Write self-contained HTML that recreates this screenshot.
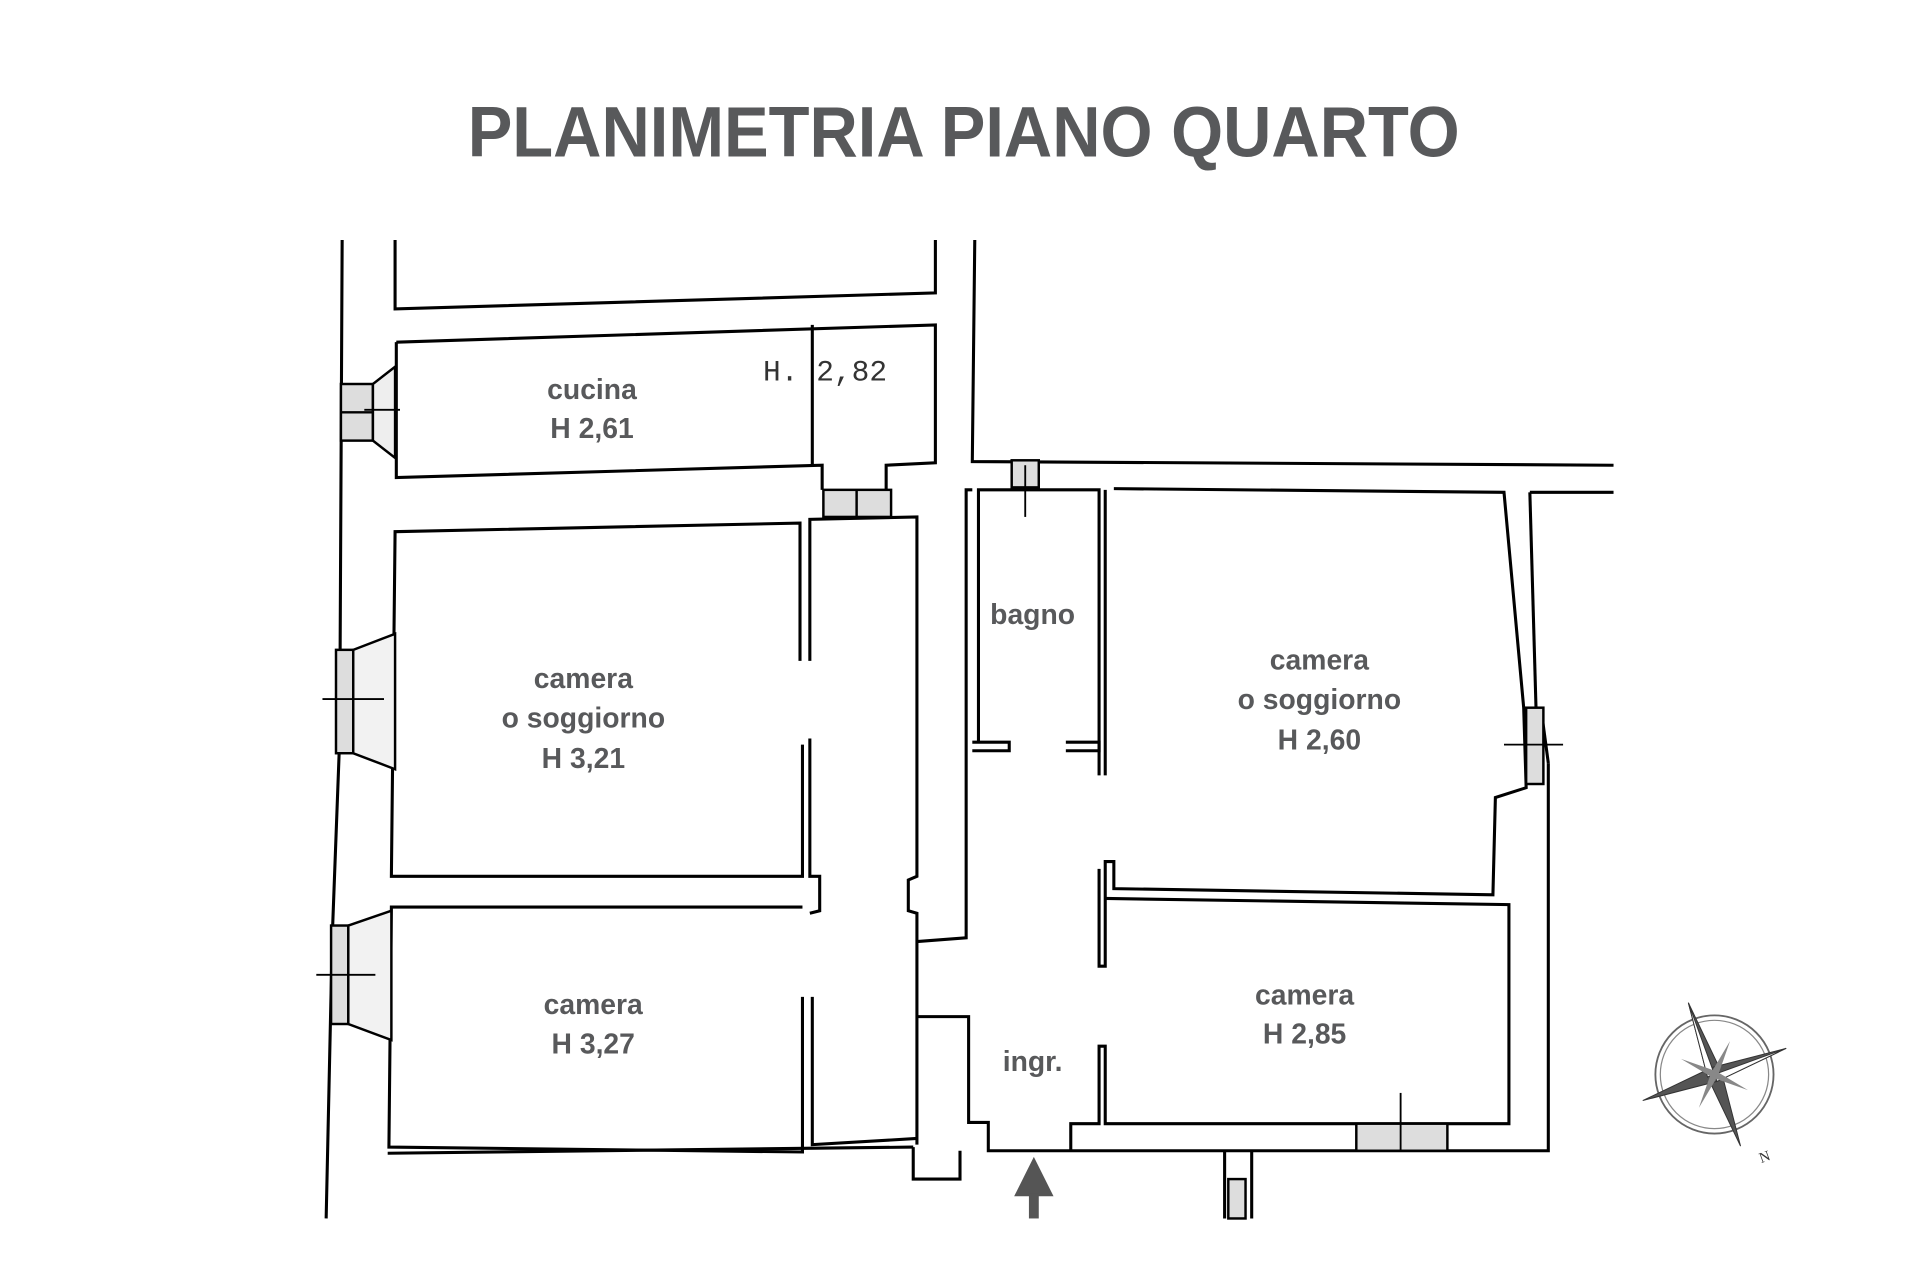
<!DOCTYPE html>
<html><head><meta charset="utf-8"><style>
html,body{margin:0;padding:0;background:#fff;width:1920px;height:1280px;overflow:hidden}
svg{display:block}
.t{font-family:"Liberation Sans",sans-serif;font-weight:bold;fill:#58595b}
.r{font-family:"Liberation Sans",sans-serif;font-weight:bold;fill:#58595b;font-size:23px;text-anchor:middle}
</style></head><body>
<svg width="1920" height="1280" viewBox="0 0 1560 1040" xmlns="http://www.w3.org/2000/svg">
<rect width="1560" height="1040" fill="#fff"/>
<text class="t" x="783" y="127" font-size="58" text-anchor="middle" textLength="806" lengthAdjust="spacingAndGlyphs">PLANIMETRIA PIANO QUARTO</text>
<g fill="none" stroke="#000" stroke-width="2.5" stroke-linejoin="miter">
<!-- left outer -->
<polyline points="278,195 276,600 270,760 265,990"/>
<!-- top left block -->
<polyline points="321,195 321,251 760,238 760,195"/>
<!-- cucina -->
<polyline points="322,278 760,264 760,376 720,378 720,398"/>
<polyline points="322,278 322,388 668,378 668,398"/>
<line x1="660" y1="264" x2="660" y2="378"/>
<!-- camera 1 -->
<polyline points="650,537 650,425 321,432 318,712 652,712 652,605"/>
<polyline points="658,537 658,422 745,420 745,712 738,715 738,740 745,742 745,930"/>
<polyline points="658,600 658,712 666,712 666,740 658,742"/>
<!-- camera 2 -->
<polyline points="652,737 318,737 316,932 652,936 652,810"/>
<polyline points="660,810 660,930 745,925"/>
<line x1="315" y1="937" x2="742" y2="932"/>
<!-- central corridor walls -->
<polyline points="792,195 790,375 1311,378"/>
<polyline points="745,765 785,762 785,398 790,398"/>
<polyline points="745,826 787,826 787,912 803,912 803,935 1258,935 1258,620"/>
<polyline points="742,932 742,958 780,958 780,935"/>
<!-- bagno -->
<polyline points="795,603 795,398 893,398 893,630"/>
<polyline points="790,603 820,603 820,610 790,610"/>
<polyline points="866,603 893,603 893,610 866,610"/>
<polyline points="898,630 898,398"/>
<!-- big camera right -->
<polyline points="905,397 1222,400 1238,575 1240,640 1215,648 1213,727 905,722 905,700 898,700 898,785 893,785 893,706"/>
<polyline points="1243,400 1311,400"/>
<polyline points="1243,400 1248,575"/>
<polyline points="1252,575 1258,620"/>
<!-- camera small right -->
<polyline points="898,730 1226,735 1226,913 898,913 898,850 893,850 893,913 870,913 870,935"/>
<!-- bottom -->
<polyline points="995,935 995,990"/>
<polyline points="1017,935 1017,990"/>
<line x1="1258" y1="935" x2="1258" y2="935"/>
</g>
<!-- windows -->
<g fill="#ddd" stroke="#000" stroke-width="2">
<rect x="277" y="312" width="26" height="46"/>
<line x1="277" y1="335" x2="303" y2="335"/>
<polygon points="303,312 321,298 321,372 303,358" fill="#eee"/>
<rect x="669" y="398" width="55" height="22"/>
<line x1="696" y1="398" x2="696" y2="420"/>
<rect x="822" y="374" width="22" height="22"/>
<rect x="273" y="528" width="14" height="84"/>
<polygon points="287,528 321,515 321,625 287,612" fill="#f2f2f2"/>
<rect x="269" y="752" width="14" height="80"/>
<polygon points="283,752 318,740 318,845 283,832" fill="#f2f2f2"/>
<rect x="1102" y="913" width="74" height="22"/>
<rect x="1240" y="575" width="14" height="62"/>
<rect x="998" y="958" width="14" height="32"/>
</g>
<g stroke="#000" stroke-width="1.5">
<line x1="262" y1="568" x2="312" y2="568"/>
<line x1="257" y1="792" x2="305" y2="792"/>
<line x1="296" y1="333" x2="325" y2="333"/>
<line x1="1138" y1="888" x2="1138" y2="935"/>
<line x1="833" y1="378" x2="833" y2="420"/>
<line x1="1222" y1="605" x2="1270" y2="605"/>
</g>
<!-- labels -->
<text x="620" y="309" font-family="Liberation Mono,monospace" font-size="24" fill="#333">H. 2,82</text>
<text class="r" x="481" y="324">cucina</text>
<text class="r" x="481" y="356">H 2,61</text>
<text class="r" x="474" y="559">camera</text>
<text class="r" x="474" y="591">o soggiorno</text>
<text class="r" x="474" y="624">H 3,21</text>
<text class="r" x="482" y="824">camera</text>
<text class="r" x="482" y="856">H 3,27</text>
<text class="r" x="839" y="507">bagno</text>
<text class="r" x="1072" y="544">camera</text>
<text class="r" x="1072" y="576">o soggiorno</text>
<text class="r" x="1072" y="609">H 2,60</text>
<text class="r" x="1060" y="816">camera</text>
<text class="r" x="1060" y="848">H 2,85</text>
<text class="r" x="839" y="870">ingr.</text>
<!-- entry arrow -->
<polygon points="840,940 824,972 856,972" fill="#555"/>
<rect x="836" y="970" width="8" height="20" fill="#555"/>
<!-- compass -->
<g transform="translate(1393,873)">
<circle r="48" fill="none" stroke="#666" stroke-width="1.5"/>
<circle r="44" fill="none" stroke="#888" stroke-width="1"/>
<g transform="rotate(-20)" fill="#555" stroke="#333" stroke-width="0.8">
<polygon points="0,-62 6,0 0,62 -6,0"/>
<polygon points="-62,0 0,-6 62,0 0,6"/>
<polygon points="0,-62 -6,0 0,0" fill="#fff"/>
<polygon points="62,0 0,6 0,0" fill="#fff"/>
</g>
<g transform="rotate(25)" fill="#888"><polygon points="0,-30 3,0 0,30 -3,0"/><polygon points="-30,0 0,-3 30,0 0,3"/></g>
<text x="38" y="72" font-size="12" font-family="Liberation Serif,serif" fill="#333" transform="rotate(-20 38 72)">N</text>
</g>
</svg>
</body></html>
